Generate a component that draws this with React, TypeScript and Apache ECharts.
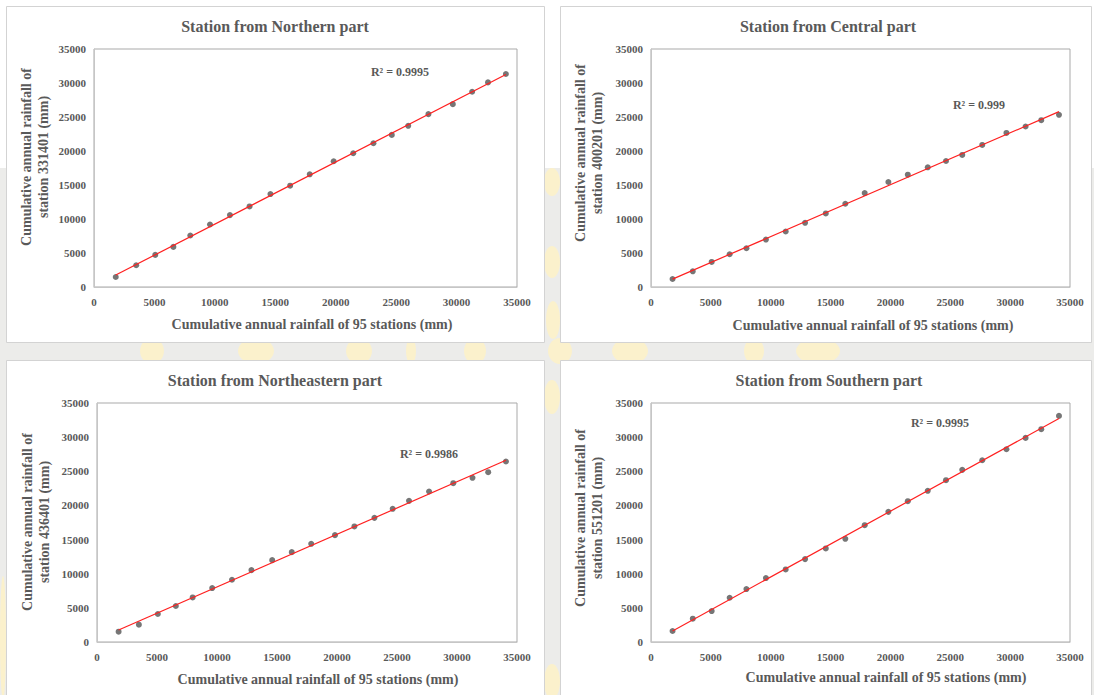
import React, { useEffect, useRef } from "react";
import * as echarts from "echarts";

// Cumulative annual rainfall of the 95-station mean (mm), shared x values
const cumulative95 = [1800, 3490, 5070, 6570, 7970, 9600, 11250, 12870, 14600, 16230, 17850, 19830, 21450, 23120, 24640, 26000, 27670, 29690, 31290, 32600, 34080];

// Cumulative annual rainfall of each single station (mm)
const station331401 = [1470, 3200, 4720, 5900, 7570, 9190, 10570, 11850, 13670, 14900, 16570, 18490, 19670, 21140, 22370, 23700, 25420, 26890, 28710, 30090, 31320];
const station400201 = [1180, 2310, 3690, 4820, 5700, 6980, 8160, 9440, 10820, 12240, 13810, 15440, 16520, 17600, 18530, 19420, 20890, 22660, 23600, 24530, 25320];
const station436401 = [1510, 2540, 4100, 5270, 6530, 7900, 9120, 10530, 11990, 13160, 14380, 15650, 16920, 18180, 19500, 20670, 22040, 23260, 24040, 24870, 26430];
const station551201 = [1610, 3410, 4530, 6480, 7750, 9360, 10630, 12140, 13700, 15110, 17110, 19060, 20620, 22140, 23700, 25210, 26620, 28230, 29890, 31160, 33110];

const panelTitles = [
  "Station from Northern part",
  "Station from Central part",
  "Station from Northeastern part",
  "Station from Southern part",
];
const stationIds = ["331401", "400201", "436401", "551201"];
const rSquared = ["R² = 0.9995", "R² = 0.999", "R² = 0.9986", "R² = 0.9995"];
const axisTicks = [0, 5000, 10000, 15000, 20000, 25000, 30000, 35000];
const xAxisTitle = "Cumulative annual rainfall of 95 stations (mm)";

const stationSeries = [station331401, station400201, station436401, station551201];

// Panel geometry (frame box, plot grid, text anchors)
const layout = [
  { box: [6, 6, 538, 336], grid: [94, 49, 423, 238], title: [275, 26], xName: [312, 324], yName: [35, 157], r2: [400, 72] },
  { box: [560, 6, 531, 336], grid: [651, 49, 419, 238], title: [828, 26], xName: [873, 325], yName: [589, 153], r2: [979, 105] },
  { box: [6, 360, 538, 340], grid: [97, 403, 420, 239], title: [275, 380], xName: [318, 679], yName: [36, 522], r2: [429, 454] },
  { box: [560, 360, 531, 340], grid: [651, 403, 419, 239], title: [829, 380], xName: [886, 677], yName: [589, 518], r2: [940, 423] },
];

const FONT = '"Liberation Serif", "Times New Roman", serif';
const TEXT = "#595959";

function linearFit(xs: number[], ys: number[]) {
  const n = xs.length;
  const mx = xs.reduce((a, b) => a + b, 0) / n;
  const my = ys.reduce((a, b) => a + b, 0) / n;
  let sxy = 0;
  let sxx = 0;
  for (let i = 0; i < n; i++) {
    sxy += (xs[i] - mx) * (ys[i] - my);
    sxx += (xs[i] - mx) * (xs[i] - mx);
  }
  const slope = sxy / sxx;
  return { slope, intercept: my - slope * mx };
}

export default function App() {
  const ref = useRef<HTMLDivElement>(null);

  useEffect(() => {
    if (!ref.current) return;
    const chart = echarts.init(ref.current, undefined, { renderer: "svg" });

    const grids: any[] = [];
    const xAxes: any[] = [];
    const yAxes: any[] = [];
    const series: any[] = [];
    const graphics: any[] = [];

    // page backdrop with faint watermark tones
    graphics.push({ type: "rect", z: -10, shape: { x: 0, y: 0, width: 1094, height: 695 }, style: { fill: "#ffffff" } });
    graphics.push({ type: "rect", z: -10, shape: { x: 0, y: 168, width: 1094, height: 527 }, style: { fill: "#ececea" } });
    const blobs = [
      [140, 342, 24, 18], [238, 342, 36, 18], [346, 342, 26, 18], [406, 342, 10, 18], [464, 342, 22, 18],
      [544, 172, 16, 20], [544, 250, 16, 24], [546, 305, 14, 30], [548, 342, 24, 18], [612, 342, 36, 18],
      [744, 342, 20, 18], [796, 342, 44, 18], [544, 384, 16, 26], [544, 668, 16, 27], [0, 580, 6, 115],
    ];
    blobs.forEach((b) => {
      graphics.push({ type: "ellipse", z: -9, shape: { cx: b[0] + b[2] / 2, cy: b[1] + b[3] / 2, rx: b[2] / 2, ry: b[3] / 2 + 4 }, style: { fill: "#fbf1cc" } });
    });

    layout.forEach((p, i) => {
      const ys = stationSeries[i];
      const fit = linearFit(cumulative95, ys);
      const x0 = cumulative95[0];
      const x1 = cumulative95[cumulative95.length - 1];

      graphics.push({
        type: "rect",
        z: -5,
        shape: { x: p.box[0] + 0.5, y: p.box[1] + 0.5, width: p.box[2], height: p.box[3] },
        style: { fill: "#ffffff", stroke: "#d3d3d3", lineWidth: 1 },
      });

      grids.push({
        left: p.grid[0],
        top: p.grid[1],
        width: p.grid[2],
        height: p.grid[3],
        show: true,
        borderColor: "#a9a9a9",
        borderWidth: 1,
        backgroundColor: "transparent",
      });

      const axisCommon = {
        type: "value",
        min: 0,
        max: 35000,
        interval: 5000,
        splitLine: { show: false },
        axisTick: { show: false },
        axisLine: { show: true, lineStyle: { color: "#c6c6c6", width: 1 } },
        axisLabel: {
          color: TEXT,
          fontFamily: FONT,
          fontWeight: "bold",
          fontSize: 11,
          formatter: (v: number) => (axisTicks.includes(v) ? String(v) : ""),
        },
      };
      xAxes.push({ ...axisCommon, gridIndex: i, axisLabel: { ...axisCommon.axisLabel, margin: 9 } });
      yAxes.push({ ...axisCommon, gridIndex: i, axisLabel: { ...axisCommon.axisLabel, margin: 8 } });

      series.push({
        type: "scatter",
        xAxisIndex: i,
        yAxisIndex: i,
        symbol: "circle",
        symbolSize: 6,
        itemStyle: { color: "#545454" },
        data: cumulative95.map((x, k) => [x, ys[k]]),
        z: 2,
      });
      series.push({
        type: "line",
        xAxisIndex: i,
        yAxisIndex: i,
        symbol: "none",
        lineStyle: { color: "#ff2020", width: 1.2 },
        data: [
          [x0, fit.intercept + fit.slope * x0],
          [x1, fit.intercept + fit.slope * x1],
        ],
        z: 3,
      });

      graphics.push({
        type: "text",
        x: p.title[0],
        y: p.title[1],
        style: { text: panelTitles[i], fill: TEXT, fontFamily: FONT, fontWeight: "bold", fontSize: 16, align: "center", verticalAlign: "middle" },
      });
      graphics.push({
        type: "text",
        x: p.xName[0],
        y: p.xName[1],
        style: { text: xAxisTitle, fill: TEXT, fontFamily: FONT, fontWeight: "bold", fontSize: 14, align: "center", verticalAlign: "middle" },
      });
      graphics.push({
        type: "text",
        x: p.yName[0],
        y: p.yName[1],
        rotation: Math.PI / 2,
        style: {
          text: "Cumulative annual rainfall of\nstation " + stationIds[i] + " (mm)",
          fill: TEXT,
          fontFamily: FONT,
          fontWeight: "bold",
          fontSize: 14,
          lineHeight: 17,
          align: "center",
          verticalAlign: "middle",
        },
      });
      graphics.push({
        type: "text",
        x: p.r2[0],
        y: p.r2[1],
        style: { text: rSquared[i], fill: TEXT, fontFamily: FONT, fontWeight: "bold", fontSize: 12, align: "center", verticalAlign: "middle" },
      });
    });

    chart.setOption({
      animation: false,
      grid: grids,
      xAxis: xAxes,
      yAxis: yAxes,
      series,
      graphic: { elements: graphics },
    });

    return () => chart.dispose();
  }, []);

  return (
    <div
      ref={ref}
      style={{ position: "absolute", left: 0, top: 0, width: 1094, height: 695 }}
    />
  );
}
